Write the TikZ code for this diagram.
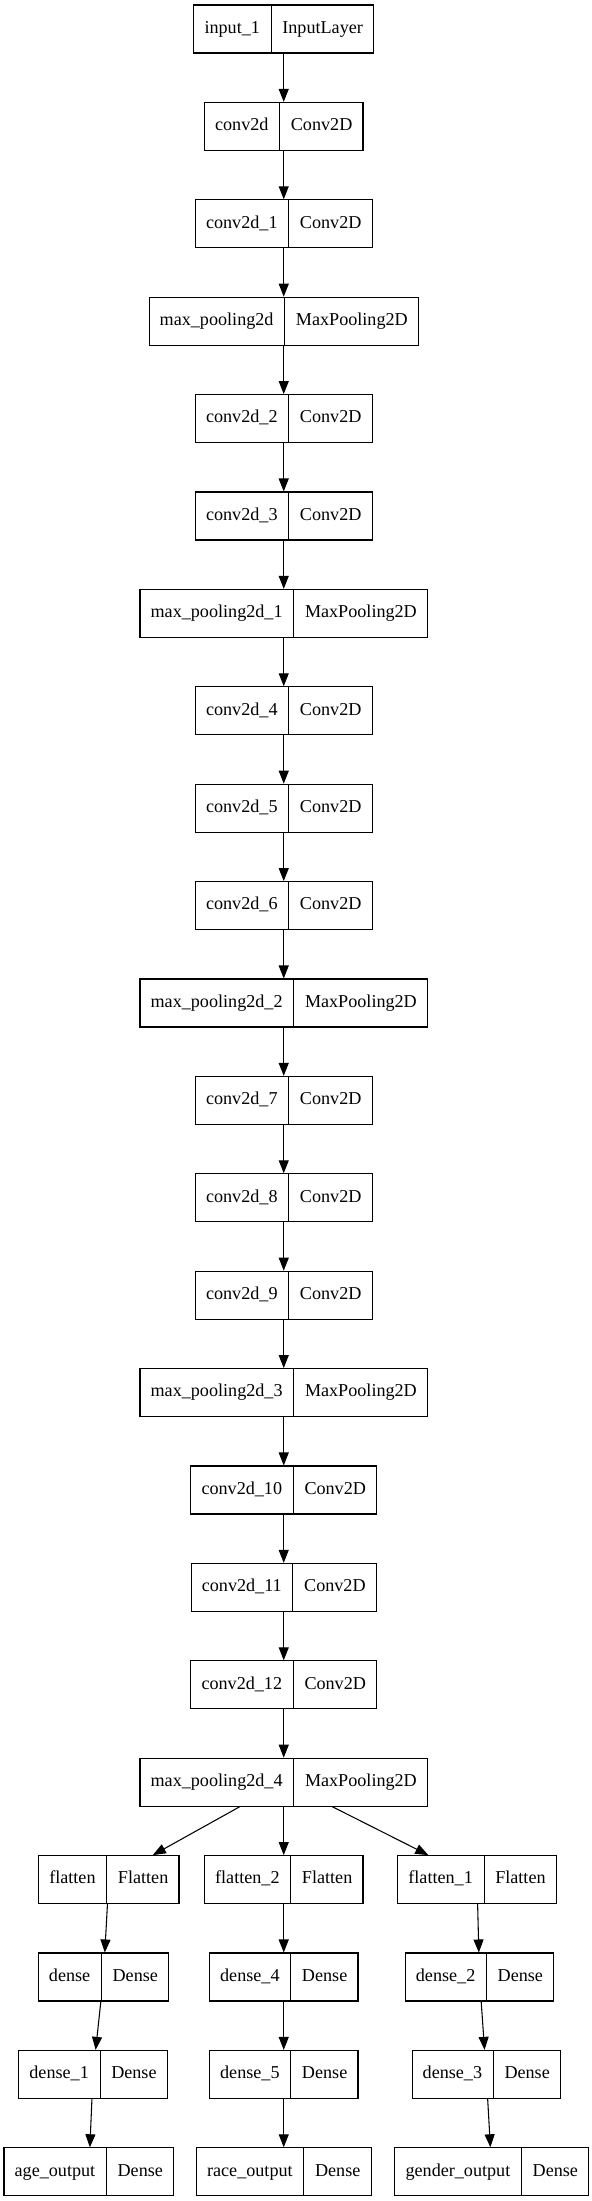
\documentclass[tikz,border=0pt]{standalone}
\usepackage{fontspec}
\setmainfont{Liberation Serif}
\usetikzlibrary{shapes.multipart,arrows.meta}

% two fields of a layer box
\newcommand{\lyr}[2]{\strut #1\nodepart{two}\strut #2}

\begin{document}
\begin{tikzpicture}[x=1pt, y=1pt,
    layer/.style={draw, line width=0.8pt, rectangle split, rectangle split horizontal,
        rectangle split parts=2, inner xsep=8pt, inner ysep=9.85pt,
        font=\fontsize{13.6}{16.3}\selectfont},
    flow/.style={-{Triangle[length=9.75pt,width=7.5pt]}, line width=0.8pt}]
        \useasboundingbox (0,0) rectangle (444,-1650.75);

        % Draw the main chain
        \node[layer] (in1) at (212.8,-21.75) {\lyr{input\_1}{InputLayer}};
        \node[layer] (c0) at (212.8,-94.8) {\lyr{conv2d}{Conv2D}};
        \node[layer] (c1) at (212.8,-167.85) {\lyr{conv2d\_1}{Conv2D}};
        \node[layer] (mp0) at (212.8,-240.9) {\lyr{max\_pooling2d}{MaxPooling2D}};
        \node[layer] (c2) at (212.8,-313.95) {\lyr{conv2d\_2}{Conv2D}};
        \node[layer] (c3) at (212.8,-387.0) {\lyr{conv2d\_3}{Conv2D}};
        \node[layer] (mp1) at (212.8,-460.05) {\lyr{max\_pooling2d\_1}{MaxPooling2D}};
        \node[layer] (c4) at (212.8,-533.1) {\lyr{conv2d\_4}{Conv2D}};
        \node[layer] (c5) at (212.8,-606.15) {\lyr{conv2d\_5}{Conv2D}};
        \node[layer] (c6) at (212.8,-679.2) {\lyr{conv2d\_6}{Conv2D}};
        \node[layer] (mp2) at (212.8,-752.25) {\lyr{max\_pooling2d\_2}{MaxPooling2D}};
        \node[layer] (c7) at (212.8,-825.3) {\lyr{conv2d\_7}{Conv2D}};
        \node[layer] (c8) at (212.8,-898.35) {\lyr{conv2d\_8}{Conv2D}};
        \node[layer] (c9) at (212.8,-971.4) {\lyr{conv2d\_9}{Conv2D}};
        \node[layer] (mp3) at (212.8,-1044.45) {\lyr{max\_pooling2d\_3}{MaxPooling2D}};
        \node[layer] (c10) at (212.8,-1117.5) {\lyr{conv2d\_10}{Conv2D}};
        \node[layer] (c11) at (212.8,-1190.55) {\lyr{conv2d\_11}{Conv2D}};
        \node[layer] (c12) at (212.8,-1263.6) {\lyr{conv2d\_12}{Conv2D}};
        \node[layer] (mp4) at (212.8,-1336.65) {\lyr{max\_pooling2d\_4}{MaxPooling2D}};

        % Draw the age branch
        \node[layer] (fl0) at (81.6,-1409.7) {\lyr{flatten}{Flatten}};
        \node[layer] (d0) at (77.6,-1482.75) {\lyr{dense}{Dense}};
        \node[layer] (d1) at (69.75,-1555.8) {\lyr{dense\_1}{Dense}};
        \node[layer] (age) at (66.6,-1628.85) {\lyr{age\_output}{Dense}};

        % Draw the race branch
        \node[layer] (fl2) at (212.8,-1409.7) {\lyr{flatten\_2}{Flatten}};
        \node[layer] (d4) at (212.8,-1482.75) {\lyr{dense\_4}{Dense}};
        \node[layer] (d5) at (212.8,-1555.8) {\lyr{dense\_5}{Dense}};
        \node[layer] (race) at (212.8,-1628.85) {\lyr{race\_output}{Dense}};

        % Draw the gender branch
        \node[layer] (fl1) at (357.75,-1409.7) {\lyr{flatten\_1}{Flatten}};
        \node[layer] (d2) at (359.6,-1482.75) {\lyr{dense\_2}{Dense}};
        \node[layer] (d3) at (364.7,-1555.8) {\lyr{dense\_3}{Dense}};
        \node[layer] (gender) at (368.85,-1628.85) {\lyr{gender\_output}{Dense}};

        % Draw the arrows
        \draw[flow] (in1) -- (c0);
        \draw[flow] (c0) -- (c1);
        \draw[flow] (c1) -- (mp0);
        \draw[flow] (mp0) -- (c2);
        \draw[flow] (c2) -- (c3);
        \draw[flow] (c3) -- (mp1);
        \draw[flow] (mp1) -- (c4);
        \draw[flow] (c4) -- (c5);
        \draw[flow] (c5) -- (c6);
        \draw[flow] (c6) -- (mp2);
        \draw[flow] (mp2) -- (c7);
        \draw[flow] (c7) -- (c8);
        \draw[flow] (c8) -- (c9);
        \draw[flow] (c9) -- (mp3);
        \draw[flow] (mp3) -- (c10);
        \draw[flow] (c10) -- (c11);
        \draw[flow] (c11) -- (c12);
        \draw[flow] (c12) -- (mp4);
        \draw[flow] (mp4) -- (fl0);
        \draw[flow] (mp4) -- (fl2);
        \draw[flow] (mp4) -- (fl1);
        \draw[flow] (fl0) -- (d0);
        \draw[flow] (d0) -- (d1);
        \draw[flow] (d1) -- (age);
        \draw[flow] (fl2) -- (d4);
        \draw[flow] (d4) -- (d5);
        \draw[flow] (d5) -- (race);
        \draw[flow] (fl1) -- (d2);
        \draw[flow] (d2) -- (d3);
        \draw[flow] (d3) -- (gender);
    \end{tikzpicture}
\end{document}
